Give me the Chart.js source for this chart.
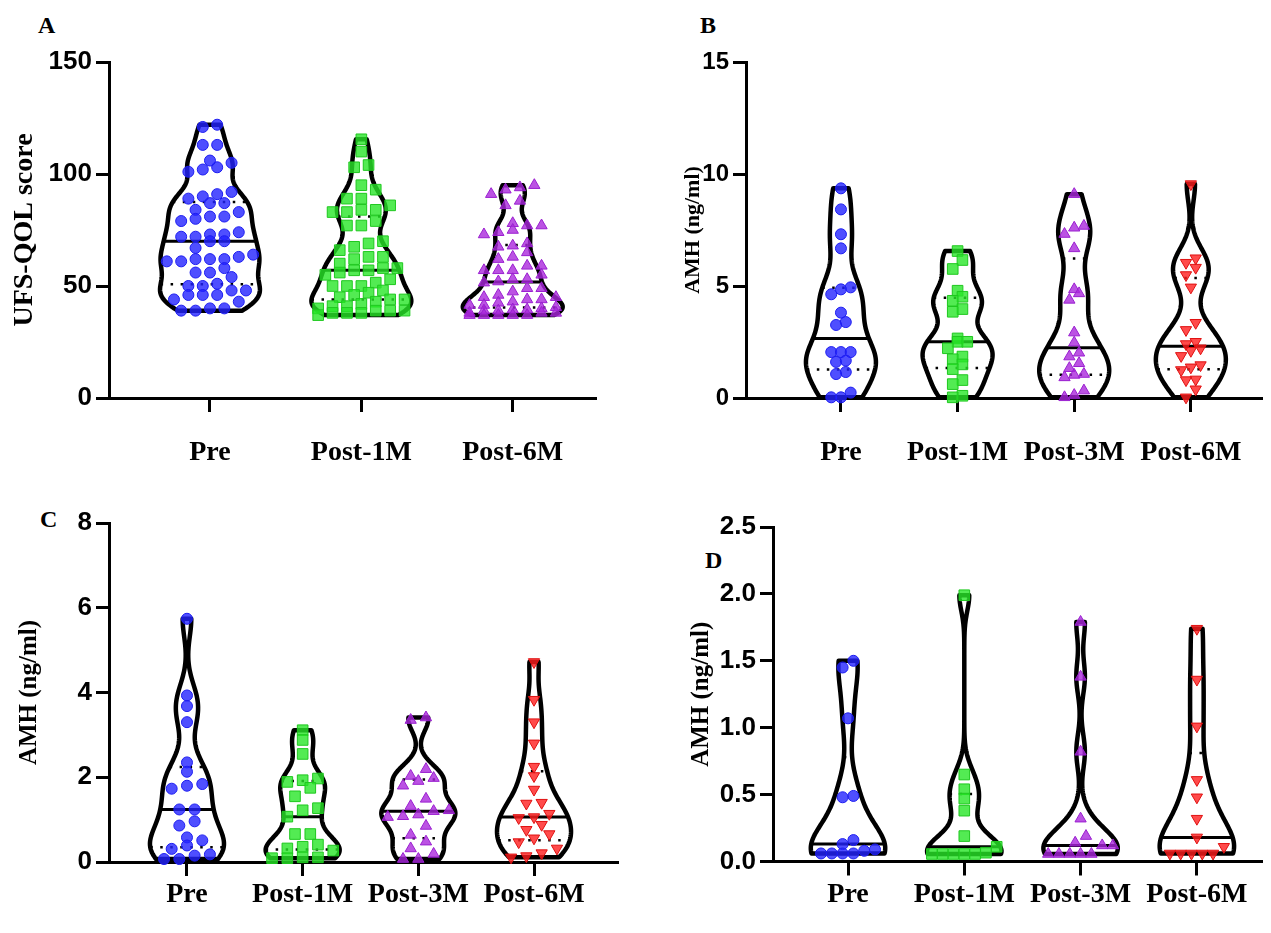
<!DOCTYPE html>
<html>
<head>
<meta charset="utf-8">
<script src="https://cdn.jsdelivr.net/npm/chart.js@4.4.0/dist/chart.umd.min.js"></script>
<style>
  body { margin: 0; background: #fff; width: 1271px; height: 933px; position: relative; overflow: hidden; }
  canvas { position: absolute; }
  .tag { position: absolute; font: bold 24px "Liberation Serif", serif; line-height: 24px; color: #000; }
</style>
</head>
<body>
<div class="tag" style="left:38px;top:13px">A</div>
<div class="tag" style="left:700px;top:13px">B</div>
<div class="tag" style="left:40px;top:507px">C</div>
<div class="tag" style="left:705px;top:548px">D</div>
<canvas id="cA" width="640" height="480" style="left:0;top:0"></canvas>
<canvas id="cB" width="631" height="480" style="left:640px;top:0"></canvas>
<canvas id="cC" width="640" height="453" style="left:0;top:480px"></canvas>
<canvas id="cD" width="631" height="453" style="left:640px;top:480px"></canvas>
<script>
// categories
const catsA = ['Pre', 'Post-1M', 'Post-6M'];
const catsAMH = ['Pre', 'Post-1M', 'Post-3M', 'Post-6M'];

// y tick labels
const yTicksA = [0, 50, 100, 150];
const yTicksB = [0, 5, 10, 15];
const yTicksC = [0, 2, 4, 6, 8];
const yTicksD = [0, 0.5, 1.0, 1.5, 2.0, 2.5];

// A: UFS-QOL score
const ufsPre = [121, 122, 113, 113, 103, 105, 106, 102, 101, 90, 92, 91, 89, 87, 87, 83, 84, 81, 79, 80, 81,
  74, 72, 73, 73, 72, 70, 70, 67, 64, 61, 63, 62, 62, 62, 61, 58, 56, 54, 56, 51, 50, 48, 48, 50,
  46, 46, 46, 44, 43, 40, 40, 39, 39];
const ufsPost1M = [115.5, 110, 103, 104, 95, 93, 89, 89, 86, 83, 84, 84, 83, 79, 77, 77, 70, 69, 67.5, 66,
  63, 63, 62, 60, 57, 58, 57, 58, 55, 56, 53, 50, 50, 51.5, 50, 48, 47, 45, 46, 44, 43, 44,
  41, 41, 42, 40, 39, 38, 38, 39, 38, 39, 37];
const ufsPost6M = [95, 94, 93, 91, 88, 86, 78, 77, 77, 75, 74, 73, 68, 67.5, 69, 65, 63, 62, 57, 57, 57, 59, 59,
  55, 52, 53, 51.5, 53, 49, 49, 47.5, 45, 46, 45, 44, 44, 43, 42.5, 41.5, 41.5, 40.5, 39.5, 39, 39.5,
  39, 40, 38, 37, 37, 37, 38, 38, 37, 37];

// B: AMH (ng/ml)
const bPre = [9.36, 8.42, 7.31, 6.68, 4.94, 4.85, 4.63, 3.81, 3.39, 3.26, 2.05, 2.05, 2.05, 1.61, 1.67, 1.16, 1.07, 0.24, 0.03, 0.03];
const bPost1M = [6.56, 6.16, 5.76, 4.79, 4.52, 4.34, 3.97, 3.85, 2.66, 2.51, 2.51, 2.22, 1.85, 1.73, 1.5, 1.29, 0.8, 0.62, 0.1, 0.03];
const bPost3M = [9.1, 7.6, 7.68, 7.32, 6.68, 4.85, 4.67, 4.38, 2.92, 2.47, 1.85, 2.02, 1.55, 1.33, 1.03, 0.92, 1.07, 0.33, 0.13, 0.03];
const bPost6M = [9.55, 6.24, 6.04, 5.82, 5.49, 4.94, 3.36, 3.04, 2.51, 2.41, 2.22, 2.11, 1.88, 1.47, 1.37, 1.25, 0.83, 0.8, 0.39, 0.03];

// C: AMH (ng/ml)
const cPre = [5.74, 3.93, 3.68, 3.3, 2.35, 2.13, 1.8, 1.84, 1.73, 1.24, 1.24, 0.96, 0.86, 0.58, 0.51, 0.31, 0.39, 0.18, 0.15, 0.07, 0.07];
const cPost1M = [3.11, 2.88, 2.55, 1.97, 1.93, 1.89, 1.75, 1.55, 1.22, 1.27, 1.07, 0.66, 0.66, 0.41, 0.36, 0.27, 0.32, 0.11, 0.11, 0.09, 0.09];
const cPost3M = [3.35, 3.41, 2.19, 1.98, 2.03, 1.91, 1.8, 1.49, 1.22, 1.32, 1.2, 1.12, 1.08, 1.06, 0.85, 0.64, 0.48, 0.32, 0.19, 0.07, 0.07];
const cPost6M = [4.72, 3.83, 3.3, 2.8, 2.25, 2.03, 1.71, 1.4, 1.38, 1.14, 1.04, 1.06, 0.88, 0.76, 0.66, 0.56, 0.47, 0.32, 0.21, 0.14, 0.11];

// D: AMH (ng/ml)
const dPre = [1.5, 1.45, 1.07, 0.49, 0.48, 0.16, 0.13, 0.09, 0.08, 0.06, 0.06, 0.06, 0.06];
const dPost1M = [1.99, 0.65, 0.54, 0.47, 0.38, 0.19, 0.11, 0.066, 0.056, 0.056, 0.056, 0.056, 0.056];
const dPost3M = [1.79, 1.38, 0.82, 0.32, 0.19, 0.14, 0.12, 0.12, 0.056, 0.056, 0.056, 0.056, 0.056];
const dPost6M = [1.74, 1.36, 1.01, 0.61, 0.48, 0.32, 0.18, 0.11, 0.06, 0.06, 0.06, 0.06, 0.06];

const markers = [
  { style: 'circle', radius: 5.5, rot: 0, fill: 'rgba(35,35,255,0.8)', line: '#1c1cf0' },
  { style: 'rect', radius: 7.5, rot: 0, fill: 'rgba(40,230,40,0.8)', line: '#1fc81f' },
  { style: 'triangle', radius: 6.5, rot: 0, fill: 'rgba(170,40,220,0.8)', line: '#9a1fd0' },
  { style: 'triangle', radius: 6.5, rot: 180, fill: 'rgba(255,30,30,0.8)', line: '#e01010' }
];
const SERIF = '"Liberation Serif", "Times New Roman", serif';
const SANS = '"Liberation Sans", Arial, sans-serif';

function quantile(s, p) {
  const pos = (s.length + 1) * p;
  const lo = Math.min(Math.max(Math.floor(pos), 1), s.length);
  const hi = Math.min(lo + 1, s.length);
  return s[lo - 1] + (s[hi - 1] - s[lo - 1]) * Math.min(Math.max(pos - lo, 0), 1);
}

function violinShape(vals, bwScale) {
  const s = [...vals].sort((a, b) => a - b);
  const n = s.length;
  const mean = s.reduce((a, b) => a + b, 0) / n;
  const sd = Math.sqrt(s.reduce((a, b) => a + (b - mean) ** 2, 0) / (n - 1));
  const iqr = quantile(s, 0.75) - quantile(s, 0.25);
  const spread = Math.min(sd, iqr / 1.34) || sd;
  const bw = bwScale * 0.9 * spread * Math.pow(n, -0.2);
  const lo = s[0], hi = s[n - 1];
  const steps = 160;
  const pts = [];
  for (let k = 0; k <= steps; k++) {
    const v = lo + (hi - lo) * k / steps;
    let d = 0;
    s.forEach(u => { d += Math.exp(-0.5 * ((v - u) / bw) ** 2); });
    pts.push([v, d]);
  }
  const dmax = Math.max(...pts.map(p => p[1]));
  return { s, pts: pts.map(p => [p[0], p[1] / dmax]) };
}

function widthAt(pts, v) {
  for (let k = 1; k < pts.length; k++) {
    if (pts[k][0] >= v) {
      const t = (v - pts[k - 1][0]) / ((pts[k][0] - pts[k - 1][0]) || 1);
      return pts[k - 1][1] + (pts[k][1] - pts[k - 1][1]) * t;
    }
  }
  return pts[pts.length - 1][1];
}

const violinPlugin = {
  id: 'violin',
  beforeDatasetsDraw(chart, args, opts) {
    const { ctx } = chart;
    const x = chart.scales.x, y = chart.scales.y;
    const half = opts.halfWidth;
    opts.groups.forEach((vals, i) => {
      const { s, pts } = violinShape(vals, opts.bwScale);
      ctx.save();
      ctx.beginPath();
      pts.forEach(([v, w], k) => {
        const px = x.getPixelForValue(i + w * half), py = y.getPixelForValue(v);
        if (k === 0) ctx.moveTo(px, py); else ctx.lineTo(px, py);
      });
      for (let k = pts.length - 1; k >= 0; k--) {
        ctx.lineTo(x.getPixelForValue(i - pts[k][1] * half), y.getPixelForValue(pts[k][0]));
      }
      ctx.closePath();
      ctx.lineWidth = 4.5;
      ctx.lineJoin = 'round';
      ctx.strokeStyle = '#000';
      ctx.stroke();

      const line = (v, dashed) => {
        const w = widthAt(pts, v) * half;
        ctx.beginPath();
        ctx.setLineDash(dashed ? [2.5, 7.5] : []);
        ctx.lineWidth = dashed ? 2.5 : 3;
        ctx.moveTo(x.getPixelForValue(i - w), y.getPixelForValue(v));
        ctx.lineTo(x.getPixelForValue(i + w), y.getPixelForValue(v));
        ctx.stroke();
      };
      line(quantile(s, 0.5), false);
      line(quantile(s, 0.25), true);
      line(quantile(s, 0.75), true);
      ctx.restore();
    });
  }
};

// put points of similar value side by side in rows, a few per row
function swarm(chart, groups, binPx, step, cap) {
  const xs = chart.scales.x, ys = chart.scales.y;
  const unit = xs.getPixelForValue(1) - xs.getPixelForValue(0);
  groups.forEach((vals, i) => {
    const out = new Array(vals.length);
    const order = vals.map((v, k) => k).sort((a, b) => vals[a] - vals[b]);
    const bins = [];
    let start = null;
    order.forEach(k => {
      const py = ys.getPixelForValue(vals[k]);
      if (start === null || start - py > binPx || bins[bins.length - 1].length >= cap) { bins.push([]); start = py; }
      bins[bins.length - 1].push(k);
    });
    bins.forEach(bin => {
      const m = bin.length;
      bin.forEach((k, j) => {
        const off = (j - (m - 1) / 2) * step;
        out[k] = { x: i + off / unit, y: vals[k] };
      });
    });
    chart.data.datasets[i].data = out;
  });
  chart.update('none');
}

function makePanel(id, cats, groups, cfg) {
  const chart = new Chart(document.getElementById(id), {
    type: 'scatter',
    data: {
      datasets: groups.map((vals, i) => {
        const m = markers[cfg.markerIdx[i]];
        return {
          data: vals.map(v => ({ x: i, y: v })),
          pointStyle: m.style,
          pointRadius: m.radius,
          pointRotation: m.rot,
          backgroundColor: m.fill,
          borderColor: m.line,
          borderWidth: 1,
          clip: false
        };
      })
    },
    options: {
      responsive: false,
      animation: false,
      events: [],
      layout: { padding: cfg.padding },
      plugins: {
        legend: { display: false },
        tooltip: { enabled: false },
        violin: { groups, halfWidth: cfg.half, bwScale: 0.65 }
      },
      scales: {
        x: {
          type: 'linear',
          min: cfg.xMin,
          max: cfg.xMax,
          afterBuildTicks: s => { s.ticks = cats.map((c, i) => ({ value: i })); },
          afterFit: s => { s.height = cfg.xHeight; },
          ticks: {
            callback: v => cats[v],
            autoSkip: false,
            maxRotation: 0,
            color: '#000',
            padding: cfg.xPad,
            font: { family: SERIF, weight: 'bold', size: 28 }
          },
          grid: { drawOnChartArea: false, drawTicks: true, tickLength: 14, tickWidth: 3, tickColor: '#000' },
          border: { display: true, color: '#000', width: 3 }
        },
        y: {
          min: cfg.yTicks[0],
          max: cfg.yTicks[cfg.yTicks.length - 1],
          afterBuildTicks: s => { s.ticks = cfg.yTicks.map(v => ({ value: v })); },
          afterFit: s => { s.width = cfg.yWidth; },
          ticks: {
            callback: v => cfg.yFmt(v),
            color: '#000',
            padding: 4,
            font: { family: SANS, weight: 'bold', size: cfg.tickSize }
          },
          grid: { drawOnChartArea: false, drawTicks: true, tickLength: 13, tickWidth: 3, tickColor: '#000' },
          border: { display: true, color: '#000', width: 3 },
          title: {
            display: true,
            text: cfg.yTitle,
            color: '#000',
            padding: { top: cfg.titlePad, bottom: 0 },
            font: { family: SERIF, weight: 'bold', size: cfg.titleSize }
          }
        }
      }
    },
    plugins: [violinPlugin]
  });
  swarm(chart, groups, cfg.binPx, cfg.step, cfg.cap);
  return chart;
}

makePanel('cA', catsA, [ufsPre, ufsPost1M, ufsPost6M], {
  markerIdx: [0, 1, 2], padding: { left: 0, top: 62, right: 44, bottom: 0 },
  xMin: -0.667, xMax: 2.55, xHeight: 82, xPad: 24, yWidth: 109, half: 0.33, tickSize: 26,
  yTicks: yTicksA, yFmt: v => String(v), yTitle: 'UFS-QOL score', titleSize: 28, titlePad: 8,
  binPx: 10, step: 14.4, cap: 7
});
makePanel('cB', catsAMH, [bPre, bPost1M, bPost3M, bPost6M], {
  markerIdx: [0, 1, 2, 3], padding: { left: 0, top: 62, right: 9, bottom: 0 },
  xMin: -0.814, xMax: 3.61, xHeight: 82, xPad: 24, yWidth: 106, half: 0.3, tickSize: 24,
  yTicks: yTicksB, yFmt: v => String(v), yTitle: 'AMH (ng/ml)', titleSize: 22, titlePad: 40,
  binPx: 9, step: 9.7, cap: 7
});
makePanel('cC', catsAMH, [cPre, cPost1M, cPost3M, cPost6M], {
  markerIdx: [0, 1, 2, 3], padding: { left: 0, top: 43, right: 22, bottom: 0 },
  xMin: -0.674, xMax: 3.726, xHeight: 71, xPad: 2, yWidth: 109, half: 0.32, tickSize: 26,
  yTicks: yTicksC, yFmt: v => String(v), yTitle: 'AMH (ng/ml)', titleSize: 25, titlePad: 15,
  binPx: 9, step: 15.3, cap: 5
});
makePanel('cD', catsAMH, [dPre, dPost1M, dPost3M, dPost6M], {
  markerIdx: [0, 1, 2, 3], padding: { left: 0, top: 47, right: 9, bottom: 0 },
  xMin: -0.645, xMax: 3.56, xHeight: 71.5, xPad: 2, yWidth: 133, half: 0.32, tickSize: 26,
  yTicks: yTicksD, yFmt: v => v.toFixed(1), yTitle: 'AMH (ng/ml)', titleSize: 25, titlePad: 47,
  binPx: 9, step: 10.8, cap: 7
});
</script>
</body>
</html>
